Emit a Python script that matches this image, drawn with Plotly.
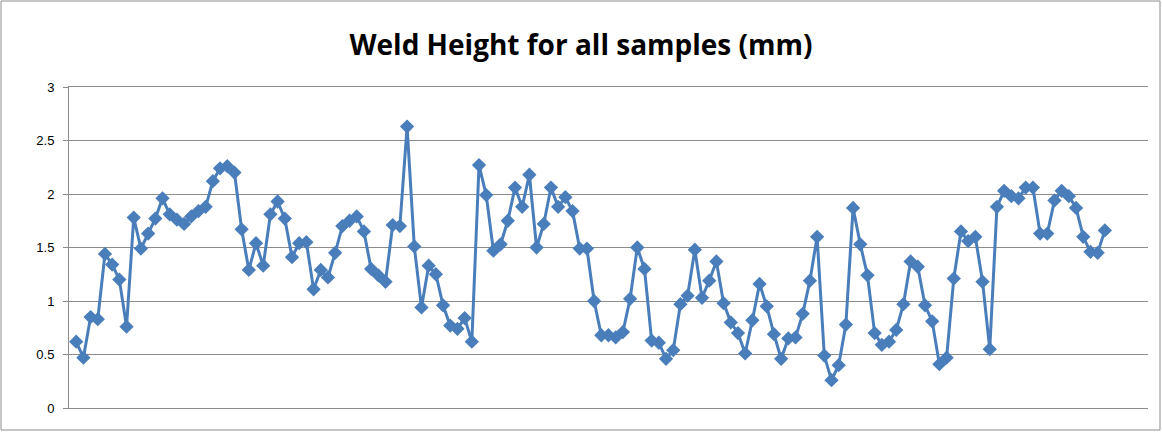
import plotly.graph_objects as go

# Sample index (category) and weld height (mm)
samples = list(range(1, 145))
weld_height = [
    0.62, 0.47, 0.85, 0.83, 1.44, 1.34, 1.20, 0.76, 1.78, 1.49,
    1.63, 1.77, 1.96, 1.81, 1.76, 1.72, 1.79, 1.84, 1.88, 2.12,
    2.24, 2.26, 2.20, 1.67, 1.29, 1.54, 1.33, 1.81, 1.93, 1.77,
    1.41, 1.54, 1.55, 1.11, 1.29, 1.22, 1.45, 1.70, 1.75, 1.79,
    1.65, 1.30, 1.24, 1.18, 1.71, 1.70, 2.63, 1.51, 0.94, 1.33,
    1.25, 0.96, 0.77, 0.74, 0.84, 0.62, 2.27, 1.99, 1.47, 1.53,
    1.75, 2.06, 1.88, 2.18, 1.50, 1.72, 2.06, 1.88, 1.97, 1.84,
    1.49, 1.49, 1.00, 0.68, 0.68, 0.66, 0.71, 1.02, 1.50, 1.30,
    0.63, 0.61, 0.46, 0.54, 0.97, 1.05, 1.48, 1.03, 1.19, 1.37,
    0.98, 0.80, 0.70, 0.51, 0.82, 1.16, 0.95, 0.69, 0.46, 0.65,
    0.66, 0.88, 1.19, 1.60, 0.49, 0.26, 0.40, 0.78, 1.87, 1.53,
    1.24, 0.70, 0.59, 0.62, 0.73, 0.97, 1.37, 1.32, 0.96, 0.81,
    0.41, 0.47, 1.21, 1.65, 1.56, 1.60, 1.18, 0.55, 1.88, 2.03,
    1.98, 1.96, 2.06, 2.06, 1.63, 1.63, 1.94, 2.03, 1.98, 1.87,
    1.60, 1.46, 1.45, 1.66,
]
y_ticks = [0, 0.5, 1, 1.5, 2, 2.5, 3]
y_tick_labels = ["0", "0.5", "1", "1.5", "2", "2.5", "3"]
title_text = "Weld Height for all samples (mm)"

W, H = 1162, 432
ML, MR, MT, MB = 69, 14, 87, 24
pw, ph = W - ML - MR, H - MT - MB

fig = go.Figure()
fig.add_trace(go.Scatter(
    x=samples, y=weld_height, mode="lines+markers",
    line=dict(color="#4a7ebb", width=3),
    marker=dict(symbol="diamond", size=11, color="#4a7ebb"),
    showlegend=False, hoverinfo="y",
))

fig.update_layout(
    width=W, height=H,
    margin=dict(l=ML, r=MR, t=MT, b=MB, pad=0),
    paper_bgcolor="white", plot_bgcolor="white",
    title=dict(text="<b>" + title_text + "</b>", x=0.5, xanchor="center",
               y=1 - 45 / H, yanchor="middle",
               font=dict(family="Open Sans, Liberation Sans, sans-serif", size=28, color="black")),
    xaxis=dict(range=[0, 150], showticklabels=False, showgrid=False,
               zeroline=False, showline=True, mirror=True,
               linecolor="#8c8c8c", linewidth=1, ticks=""),
    yaxis=dict(range=[0, 3], tickvals=y_ticks, ticktext=y_tick_labels,
               showgrid=True, gridcolor="#8c8c8c", gridwidth=1,
               zeroline=False, showline=True, linecolor="#8c8c8c", linewidth=1,
               ticks="outside", ticklen=5, tickcolor="#8c8c8c",
               ticklabelstandoff=6,
               tickfont=dict(family="Liberation Sans, Arial, sans-serif", size=13, color="black")),
    shapes=[dict(type="rect", xref="paper", yref="paper",
                 x0=-(ML - 1) / pw, x1=1 + (MR - 2) / pw,
                 y0=-(MB - 2) / ph, y1=1 + (MT - 1) / ph,
                 line=dict(color="#8c8c8c", width=1), fillcolor="rgba(0,0,0,0)", layer="below")],
)

fig.write_html("out.html")
